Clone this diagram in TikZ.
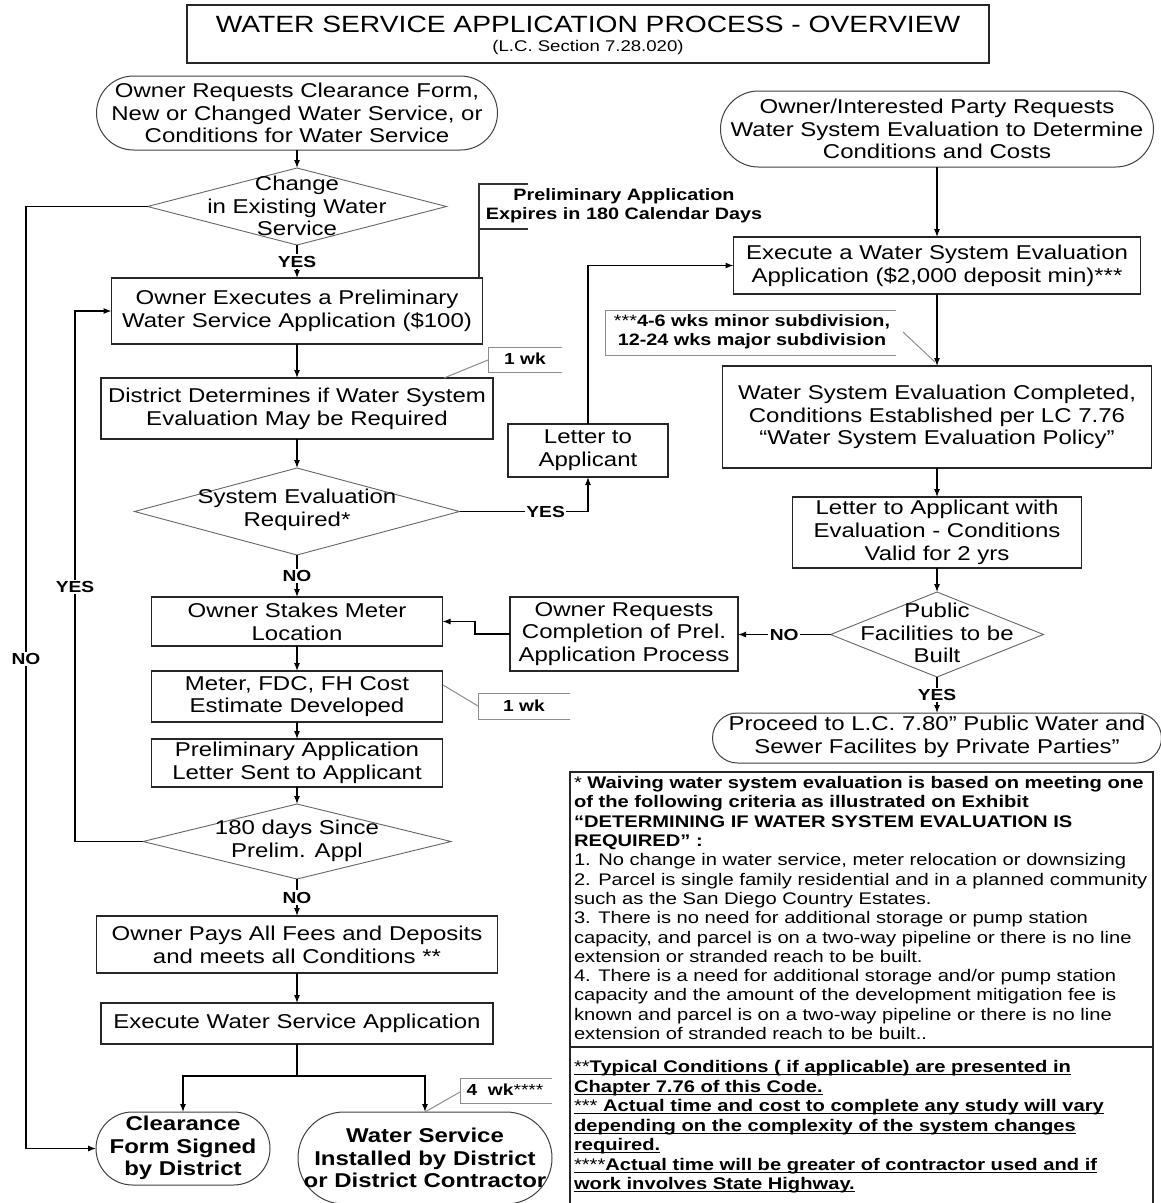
\documentclass[tikz,border=0pt]{standalone}
\usepackage{fontspec}
\setmainfont{Liberation Sans}[FakeStretch=1.2]
\usetikzlibrary{shapes.geometric,shapes.misc,arrows.meta}
\newcommand\mainf{\fontsize{20}{22.8}\selectfont}
\newcommand\lblf{\fontsize{16}{18}\selectfont\bfseries}
\newcommand\notef{\fontsize{16.8}{19.3}\selectfont}
\newsavebox\ulsave
\newcommand\ulline[1]{\sbox\ulsave{#1}\rlap{\rule[-2.8pt]{\wd\ulsave}{1.1pt}}\usebox\ulsave}
\newcommand\sq{\char34\relax}
\begin{document}
\begin{tikzpicture}[x=1pt,y=-1pt,
  every node/.style={inner sep=0pt,outer sep=0pt},
  box/.style={draw=black!85,line width=1.2pt,rectangle},
  term/.style={draw=black!75,line width=1pt,rounded rectangle},
  dia/.style={draw=black!60,line width=0.9pt,diamond},
  txt/.style={align=center,font=\mainf},
  btxt/.style={align=center,font=\mainf\bfseries},
  lbl/.style={fill=white,font=\lblf,inner sep=1.5pt},
  arr/.style={draw=black,line width=1.1pt,-{Latex[length=8pt,width=6pt]}},
  conn/.style={draw=black,line width=1.1pt},
  notebr/.style={draw=black!45,line width=1pt},
  brk/.style={draw=black!80,line width=1.1pt}]
\fill[white] (0,0) rectangle (1161,1203);
\useasboundingbox (0,0) rectangle (1161,1203);

% title
\node[box,minimum width=802,minimum height=58] (titlebox) at (588,34) {};
\node[font=\fontsize{23.5}{26}\selectfont] (title) at (588,24) {WATER SERVICE APPLICATION PROCESS - OVERVIEW};
\node[font=\fontsize{15.5}{17}\selectfont] (subtitle) at (588,47) {(L.C. Section 7.28.020)};

% terminators
\node[term,minimum width=401,minimum height=74] (start1) at (297,113) {};
\node[txt] (start1t) at (297,113) {Owner Requests Clearance Form,\\New or Changed Water Service, or\\Conditions for Water Service};
\node[term,minimum width=433,minimum height=76] (start2) at (937,129) {};
\node[txt] (start2t) at (937,129) {Owner/Interested Party Requests\\Water System Evaluation to Determine\\Conditions and Costs};
\node[term,minimum width=174,minimum height=73] (clear) at (183,1148.5) {};
\node[btxt] (cleart) at (183,1148) {Clearance\\Form Signed\\by District};
\node[term,minimum width=254,minimum height=92] (ws) at (425,1158) {};
\node[btxt] (wst) at (425,1158) {Water Service\\Installed by District\\or District Contractor};
\node[term,minimum width=449,minimum height=50] (proceed) at (937,738) {};
\node[txt] (proceedt) at (937,737) {Proceed to L.C. 7.80\sq{} Public Water and\\Sewer Facilites by Private Parties”};

% diamonds
\node[dia,minimum width=299,minimum height=77] (d1) at (297,206.5) {};
\node[txt] (d1t) at (297,206) {Change\\in Existing Water\\Service};
\node[dia,minimum width=325,minimum height=87] (d2) at (297,511.5) {};
\node[txt] (d2t) at (297,510) {System Evaluation\\Required*};
\node[dia,minimum width=213,minimum height=85] (d3) at (937,634.5) {};
\node[txt] (d3t) at (937,633) {Public\\Facilities to be\\Built};
\node[dia,minimum width=308,minimum height=75] (d4) at (297,841.5) {};
\node[txt] (d4t) at (297,841) {180 days Since\\Prelim. Appl};

% boxes
\node[box,txt,minimum width=371,minimum height=66] (box2) at (297,311) {Owner Executes a Preliminary\\Water Service Application (\$100)};
\node[box,txt,minimum width=392,minimum height=61] (box3) at (297,408.5) {District Determines if Water System\\Evaluation May be Required};
\node[box,txt,minimum width=407,minimum height=57] (exec) at (937,265.5) {Execute a Water System Evaluation\\Application (\$2,000 deposit min)***};
\node[box,txt,minimum width=429,minimum height=102] (box4) at (937,417) {Water System Evaluation Completed,\\Conditions Established per LC 7.76\\“Water System Evaluation Policy”};
\node[box,txt,minimum width=289,minimum height=71] (box5) at (937,532.5) {Letter to Applicant with\\Evaluation - Conditions\\Valid for 2 yrs};
\node[box,txt,minimum width=160,minimum height=53] (letter) at (588,450.5) {Letter to\\Applicant};
\node[box,txt,minimum width=228,minimum height=74] (ownreq) at (624,634) {Owner Requests\\Completion of Prel.\\Application Process};
\node[box,txt,minimum width=291,minimum height=49] (stakes) at (297,621.5) {Owner Stakes Meter\\Location};
\node[box,txt,minimum width=291,minimum height=51] (meter) at (297,696.5) {Meter, FDC, FH Cost\\Estimate Developed};
\node[box,txt,minimum width=291,minimum height=48] (prelim) at (297,763) {Preliminary Application\\Letter Sent to Applicant};
\node[box,txt,minimum width=401,minimum height=57] (pays) at (297,944.5) {Owner Pays All Fees and Deposits\\and meets all Conditions **};
\node[box,txt,minimum width=392,minimum height=41] (execws) at (297,1023.5) {Execute Water Service Application};

% connectors
\draw[arr] (start1.south) -- (d1.north);
\draw[arr] (d1.south) -- node[lbl]{YES} (box2.north);
\draw[arr] (d1.west) -- (26,206.5) -- node[lbl,pos=0.48]{NO} (26,1148.5) -- (clear.west);
\draw[arr] (box2.south) -- (box3.north);
\draw[arr] (box3.south) -- (d2.north);
\draw[arr] (d2.east) -- node[lbl,pos=0.67]{YES} (588,511.5) -- (letter.south);
\draw[arr] (letter.north) -- (588,265.5) -- (exec.west);
\draw[arr] (start2.south) -- (exec.north);
\draw[arr] (exec.south) -- (box4.north);
\draw[arr] (box4.south) -- (box5.north);
\draw[arr] (box5.south) -- (d3.north);
\draw[arr] (d3.west) -- node[lbl]{NO} (d3.west -| ownreq.east);
\draw[arr] (ownreq.west) -- (475,634) |- (stakes.east);
\draw[arr] (d3.south) -- node[lbl]{YES} (proceed.north);
\draw[arr] (d2.south) -- node[lbl]{NO} (stakes.north);
\draw[arr] (stakes.south) -- (meter.north);
\draw[arr] (meter.south) -- (prelim.north);
\draw[arr] (prelim.south) -- (d4.north);
\draw[arr] (d4.west) -- (75,841.5) -- node[lbl,pos=0.48]{YES} (75,311) -- (box2.west);
\draw[arr] (d4.south) -- node[lbl]{NO} (pays.north);
\draw[arr] (pays.south) -- (execws.north);
\coordinate (split) at (297,1076);
\draw[conn] (execws.south) -- (split);
\draw[arr] (split) -| (clear.north);
\draw[arr] (split) -| (ws.north);

% annotation: preliminary application expires
\coordinate (pb1) at (528,184);
\coordinate (pb2) at (479,184);
\coordinate (pb3) at (479,229);
\coordinate (pb4) at (528,229);
\draw[brk] (pb1) -- (pb2) -- (pb3) -- (pb4);
\draw[brk] (pb2) -- (box2.north -| pb2);
\node[font=\fontsize{16.5}{19}\selectfont\bfseries,align=center] (prelimnote) at (624,206) {Preliminary Application\\Expires in 180 Calendar Days};

% annotation: 1 wk (upper)
\draw[notebr] (562,347) -- (488,347) -- (488,372) -- (562,372);
\node[font=\lblf] (wk1) at (525,359) {1 wk};
\coordinate (wk1a) at (488,360);
\coordinate (wk1b) at (444,378);
\draw[notebr] (wk1a) -- (wk1b);

% annotation: 1 wk (lower)
\draw[notebr] (570,693) -- (478,693) -- (478,719) -- (570,719);
\node[font=\lblf] (wk2) at (524,706) {1 wk};
\coordinate (wk2a) at (478,706);
\coordinate (wk2b) at (443,685);
\draw[notebr] (wk2a) -- (wk2b);

% annotation: *** weeks
\draw[notebr] (896,310) -- (605,310) -- (605,355) -- (896,355);
\node[font=\fontsize{16.5}{19}\selectfont\bfseries,align=center] (wk3) at (752,332) {{\mdseries***}4-6 wks minor subdivision,\\12-24 wks major subdivision};
\coordinate (wk3a) at (903,332);
\coordinate (wk3b) at (935,362);
\draw[notebr] (wk3a) -- (wk3b);

% annotation: 4 wk
\draw[notebr] (552,1078) -- (460,1078) -- (460,1103) -- (552,1103);
\node[font=\lblf] (wk4) at (505,1090) {4\ \ wk{\mdseries****}};
\coordinate (wk4a) at (460,1092);
\coordinate (wk4b) at (425,1112);
\draw[notebr] (wk4a) -- (wk4b);

% notes box
\draw[draw=black!85,line width=1.2pt] (570,1210) -- (570,772) -- (1153,772) -- (1153,1210);
\draw[draw=black!85,line width=1.2pt] (570,1047) -- (1153,1047);
\node[anchor=north west,align=left,font=\notef] (notes1) at (574,776.5) {%
{\mdseries *} {\bfseries Waiving water system evaluation is based on meeting one}\\
{\bfseries of the following criteria as illustrated on Exhibit}\\
{\bfseries “DETERMINING IF WATER SYSTEM EVALUATION IS}\\
{\bfseries REQUIRED\sq{} :}\\
1. No change in water service, meter relocation or downsizing\\
2. Parcel is single family residential and in a planned community\\
such as the San Diego Country Estates.\\
3. There is no need for additional storage or pump station\\
capacity, and parcel is on a two-way pipeline or there is no line\\
extension or stranded reach to be built.\\
4. There is a need for additional storage and/or pump station\\
capacity and the amount of the development mitigation fee is\\
known and parcel is on a two-way pipeline or there is no line\\
extension of stranded reach to be built..};
\node[anchor=north west,align=left,font=\fontsize{16.8}{19.5}\selectfont\bfseries] (notes2) at (574,1060.5) {%
\ulline{{\mdseries**}Typical Conditions ( if applicable) are presented in}\\
\ulline{Chapter 7.76 of this Code.}\\
\ulline{{\mdseries***} Actual time and cost to complete any study will vary}\\
\ulline{depending on the complexity of the system changes}\\
\ulline{required.}\\
\ulline{{\mdseries****}Actual time will be greater of contractor used and if}\\
\ulline{work involves State Highway.}};
\end{tikzpicture}
\end{document}
